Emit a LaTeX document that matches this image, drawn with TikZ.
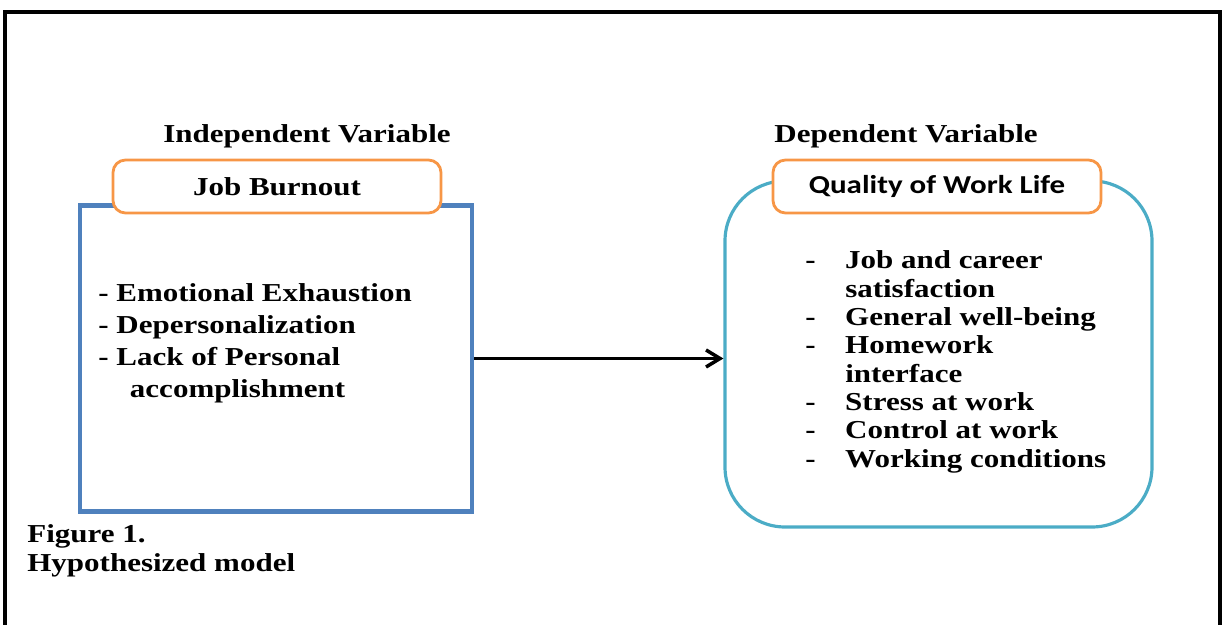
\documentclass[tikz,border=0pt]{standalone}
\usepackage{fontspec}
\setmainfont{Liberation Serif}[FakeStretch=1.2]
\newfontfamily\headfont{Carlito}[FakeStretch=1.2]
\usetikzlibrary{arrows.meta}
\definecolor{boxblue}{HTML}{4F81BD}
\definecolor{roundblue}{HTML}{4BACC6}
\definecolor{headorange}{HTML}{F79646}
\tikzstyle{line} = [draw, -{Straight Barb[length=2.8mm, width=3.4mm]}, line width=2pt]
\tikzstyle{head} = [draw=headorange, line width=1.6pt, fill=white, rounded corners=0.25cm, minimum width=6.56cm, minimum height=1.06cm, inner sep=0pt]
\tikzstyle{title} = [anchor=base, inner sep=0pt, font=\fontsize{14.7}{16}\selectfont\bfseries]
\tikzstyle{list} = [anchor=base west, inner sep=0pt]

\begin{document}
\begin{tikzpicture}
        \useasboundingbox (0,0) rectangle (24.5,12.5);
        \draw[line width=2.6pt] (0.1,0) |- (24.4,12.26) -- (24.4,0);

        \node[title] (indep) at (6.14,9.64) {Independent Variable};
        \node[title] (dep) at (18.12,9.64) {Dependent Variable};

        \node[draw=boxblue, line width=2.8pt, minimum width=7.84cm, minimum height=6.12cm] (burnout) at (5.52,5.33) {};
        \node[draw=roundblue, line width=1.8pt, rounded corners=1.2cm, minimum width=8.54cm, minimum height=6.92cm] (qwl) at (18.77,5.42) {};

        \node[head, font=\fontsize{14.7}{16}\selectfont\bfseries] (burnouthead) at (5.54,8.77) {Job Burnout};
        \node[head, font=\fontsize{14.7}{16}\selectfont\headfont\bfseries] (qwlhead) at (18.74,8.77) {Quality of Work Life};

        \node[list, font=\fontsize{14.7}{18.1}\selectfont\bfseries] (burnoutlist) at (1.96,6.46) {%
            \begin{tabular}[t]{@{}l@{}}
                - Emotional Exhaustion\\
                - Depersonalization\\
                - Lack of Personal\\
                \hspace*{18pt}accomplishment
            \end{tabular}};

        \node[list, font=\fontsize{14.7}{16.1}\selectfont\bfseries] (qwllist) at (16.1,7.12) {%
            \begin{tabular}[t]{@{}l@{}l@{}}
                \makebox[22.7pt][l]{-} & Job and career\\
                & satisfaction\\
                - & General well-being\\
                - & Homework\\
                & interface\\
                - & Stress at work\\
                - & Control at work\\
                - & Working conditions
            \end{tabular}};

        \node[list, font=\fontsize{14.7}{16.4}\selectfont\bfseries] (caption) at (0.54,1.64) {%
            \begin{tabular}[t]{@{}l@{}}
                Figure 1.\\
                Hypothesized model
            \end{tabular}};

        \path[line] (burnout.east) -- (burnout.east -| qwl.west);
    \end{tikzpicture}
\end{document}
